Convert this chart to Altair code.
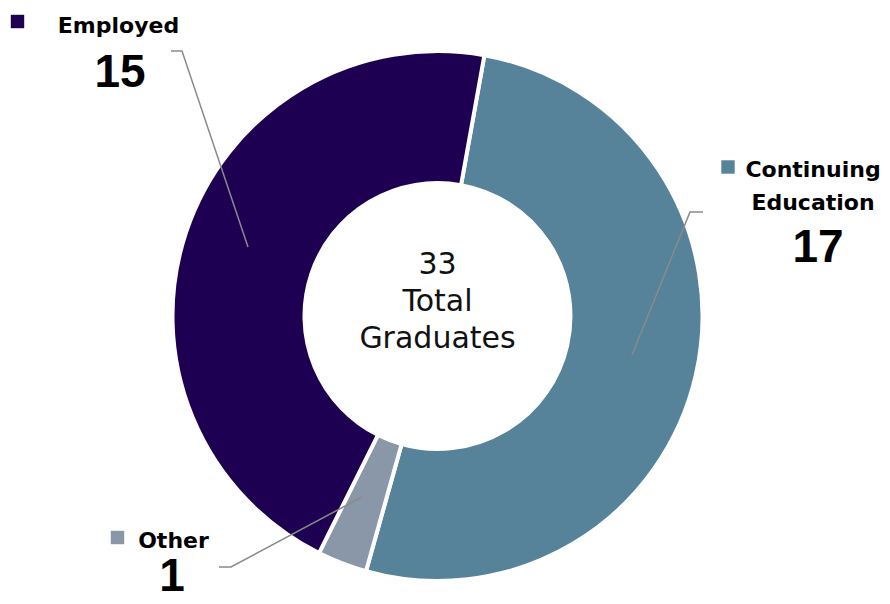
import altair as alt
import pandas as pd

# ---- data ----
categories = ["Continuing Education", "Other", "Employed"]
values = [17, 1, 15]
label_text = ["Continuing\nEducation", "Other", "Employed"]
colors = ["#56839A", "#8997A8", "#1E0052"]
total = sum(values)
center_lines = [str(total), "Total", "Graduates"]

# ---- layout (chart pixel coordinates) ----
W, H = 874, 588
CX, CY = 429.5, 308
R_OUT, R_IN = 265, 133
START = 0.178  # radians, clockwise from 12 o'clock

label_pos = {  # label centre x, first baseline y, value baseline y, square x, y
    "Continuing Education": dict(lx=805, ly=169, vx=810, vy=254, sx=720, sy=159),
    "Other": dict(lx=165.5, ly=540, vx=164, vy=583, sx=109.5, sy=529.5),
    "Employed": dict(lx=110.5, ly=25, vx=112, vy=79, sx=9.5, sy=13.5),
}
leaders = {
    "Continuing Education": [(695, 204), (682, 204), (624, 347)],
    "Other": [(211, 559), (223, 559), (354, 489)],
    "Employed": [(163, 43), (174, 43), (240, 239)],
}

df = pd.DataFrame({"cat": categories, "value": values, "ord": list(range(len(categories))),
                   "label": label_text})
for k in ["lx", "ly", "vx", "vy", "sx", "sy"]:
    df[k] = [label_pos[c][k] for c in categories]
df["vtext"] = [str(v) for v in values]

lines = pd.DataFrame([
    {"cat": c, "i": i, "px": p[0], "py": p[1]}
    for c in categories for i, p in enumerate(leaders[c])
])

center = pd.DataFrame({"t": center_lines, "y": [266, 303, 340]})

color_scale = alt.Scale(domain=categories, range=colors)

arcs = alt.Chart(df).mark_arc(radius=R_OUT, radius2=R_IN, stroke="white", strokeWidth=4).encode(
    theta=alt.Theta("value:Q", stack=True, scale=alt.Scale(range=[START, START + 6.283185307])),
    order=alt.Order("ord:Q"),
    color=alt.Color("cat:N", scale=color_scale, legend=None),
    x=alt.value(CX),
    y=alt.value(CY),
)

leader = alt.Chart(lines).mark_line(color="#8a8a8a", strokeWidth=1.5).encode(
    x=alt.X("px:Q", scale=None, axis=None),
    y=alt.Y("py:Q", scale=None, axis=None),
    detail="cat:N",
    order="i:Q",
)

squares = alt.Chart(df).mark_square(size=180, opacity=1).encode(
    x=alt.X("sx:Q", scale=None, axis=None),
    y=alt.Y("sy:Q", scale=None, axis=None),
    color=alt.Color("cat:N", scale=color_scale, legend=None),
)

names = alt.Chart(df).mark_text(font="DejaVu Sans", fontWeight="bold", fontSize=22,
                                align="center", baseline="alphabetic", lineBreak="\n",
                                lineHeight=33, color="#000000").encode(
    x=alt.X("lx:Q", scale=None, axis=None),
    y=alt.Y("ly:Q", scale=None, axis=None),
    text="label:N",
)

nums = alt.Chart(df).mark_text(font="Liberation Sans", fontWeight="bold", fontSize=46,
                               align="center", baseline="alphabetic", color="#000000").encode(
    x=alt.X("vx:Q", scale=None, axis=None),
    y=alt.Y("vy:Q", scale=None, axis=None),
    text="vtext:N",
)

ctext = alt.Chart(center).mark_text(font="DejaVu Sans", fontSize=30, align="center",
                                    baseline="alphabetic", color="#111111").encode(
    x=alt.value(CX),
    y=alt.Y("y:Q", scale=None, axis=None),
    text="t:N",
)

chart = alt.layer(arcs, leader, squares, names, nums, ctext).properties(
    width=W, height=H, padding=0, autosize="none"
).configure_view(stroke=None)

chart.save("out.html", embed_options={"renderer": "svg", "actions": False})
